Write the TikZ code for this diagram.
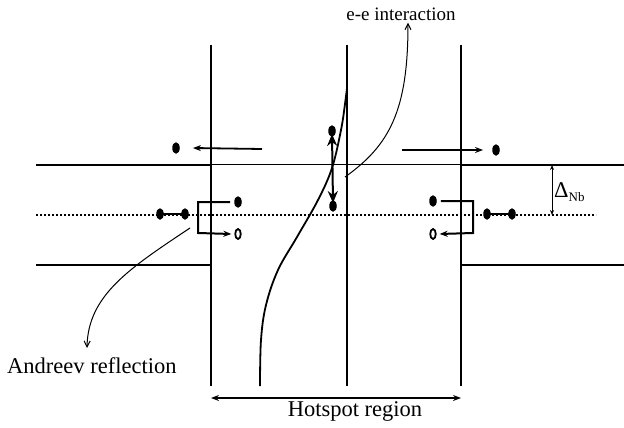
\documentclass[tikz,border=0pt]{standalone}
\usepackage{fontspec}
\setmainfont{Liberation Serif}
\usetikzlibrary{arrows.meta,shapes.geometric}
\begin{document}
\begin{tikzpicture}[x=1pt,y=-1pt,
  lead/.style={line width=2.6pt},
  wall/.style={line width=1.6pt},
  weak/.style={line width=0.9pt},
  particle/.style={ellipse,fill=black,inner sep=0pt,minimum width=7.5pt,minimum height=11.5pt},
  hole/.style={ellipse,draw,line width=1.8pt,inner sep=0pt,minimum width=5.5pt,minimum height=10pt},
  flow/.style={line width=1.8pt,-{Stealth[length=8pt,width=6pt]}},
  pointer/.style={line width=1pt,-{Straight Barb[length=6pt,width=6pt]}},
  caption/.style={font=\fontsize{22.5}{27}\selectfont,inner sep=0pt},
  small/.style={font=\fontsize{19}{23}\selectfont,inner sep=0pt}
]
\useasboundingbox (0,0) rectangle (624,428);

% leads (superconducting banks) and the hot region
\draw[lead] (36,165) -- (211,165);
\draw[weak] (211,164) -- (460,164);
\draw[lead] (460,165) -- (624,165);
\draw[lead] (36,265) -- (211,265);
\draw[lead] (460,265) -- (624,265);
\draw[line width=2pt,dotted] (36,215) -- (596,215);

% walls of the hotspot
\coordinate (wlT) at (211,45);  \coordinate (wlB) at (211,386);
\coordinate (wmT) at (347,45);  \coordinate (wmB) at (347,386);
\coordinate (wrT) at (461,45);  \coordinate (wrB) at (461,386);
\draw[wall] (wlT) -- (wlB);
\draw[line width=1.3pt] (wmT) -- (wmB);
\draw[wall] (wrT) -- (wrB);

% temperature-like profile
\draw[line width=1.8pt] plot[smooth,tension=0.6] coordinates
  {(260,386) (261,340) (266,305) (278,270) (297,237) (318,200) (332,168) (341,130) (345,104) (347,88)};

% electrons, holes and Cooper pairs
\node[particle] (L1) at (160,214) {};
\node[particle] (L2) at (185,214) {};
\node[particle] (LE) at (238,202) {};
\node[hole]     (LH) at (238,234) {};
\node[particle] (R1) at (487,214) {};
\node[particle] (R2) at (512,214) {};
\node[particle] (RE) at (433,201) {};
\node[hole]     (RH) at (433,234) {};
\node[particle] (UL) at (176,148) {};
\node[particle] (UR) at (496,150) {};
\node[particle] (CT) at (332,131) {};
\node[particle] (CB) at (333,206) {};

\draw[line width=2.8pt] (L1.center) -- (L2.center);
\draw[line width=2.8pt] (R1.center) -- (R2.center);

% Andreev reflection brackets
\coordinate (lb1) at (198,202); \coordinate (lb2) at (198,233);
\draw[flow,line width=2pt] ([xshift=-4pt]LE.west) -- (lb1) -- (lb2) -- ([xshift=-3pt]LH.west);
\coordinate (rb1) at (473,201); \coordinate (rb2) at (473,233);
\draw[flow,line width=2pt] ([xshift=4pt]RE.east) -- (rb1) -- (rb2) -- ([xshift=3pt]RH.east);

% quasiparticles escaping from the hotspot
\coordinate (ulS) at (262,149);
\draw[flow] (ulS) -- ([xshift=13pt]UL.east);
\coordinate (urS) at (402,150);
\draw[flow] (urS) -- ([xshift=-9pt]UR.west);

% e-e scattering
\draw[line width=2pt,{Stealth[length=12pt,width=10pt]}-{Stealth[length=12pt,width=10pt]}]
  ([yshift=3pt]CT.south) -- ([yshift=-3pt]CB.north);

% gap marker
\coordinate (gT) at (552,165); \coordinate (gB) at (552,215);
\draw[line width=1pt,{Stealth[length=5pt,width=4pt]}-{Stealth[length=5pt,width=4pt]}] (gT) -- (gB);
\node[caption,anchor=base west] (gap) at (554,197) {Δ\raisebox{-4pt}{\fontsize{13}{13}\selectfont Nb}};

% labels with pointers
\node[small] (ee) at (401,14) {e-e interaction};
\coordinate (eeS) at (345,177);
\draw[pointer] (eeS) .. controls (390,145) and (408,110) .. ([yshift=-2pt]ee.south -| 408,0);

\node[caption,anchor=west] (ar) at (7,366) {Andreev reflection};
\coordinate (arS) at (190,228);
\coordinate (arT) at (87,348);
\draw[pointer] (arS) .. controls (130,268) and (88,295) .. (arT);

% hotspot extent
\coordinate (hL) at (211,398); \coordinate (hR) at (461,398);
\draw[line width=1.4pt,{Stealth[length=8pt,width=6pt]}-{Stealth[length=8pt,width=6pt]}] (hL) -- (hR);
\node[caption] (hs) at (355,411) {Hotspot region};
\end{tikzpicture}
\end{document}
